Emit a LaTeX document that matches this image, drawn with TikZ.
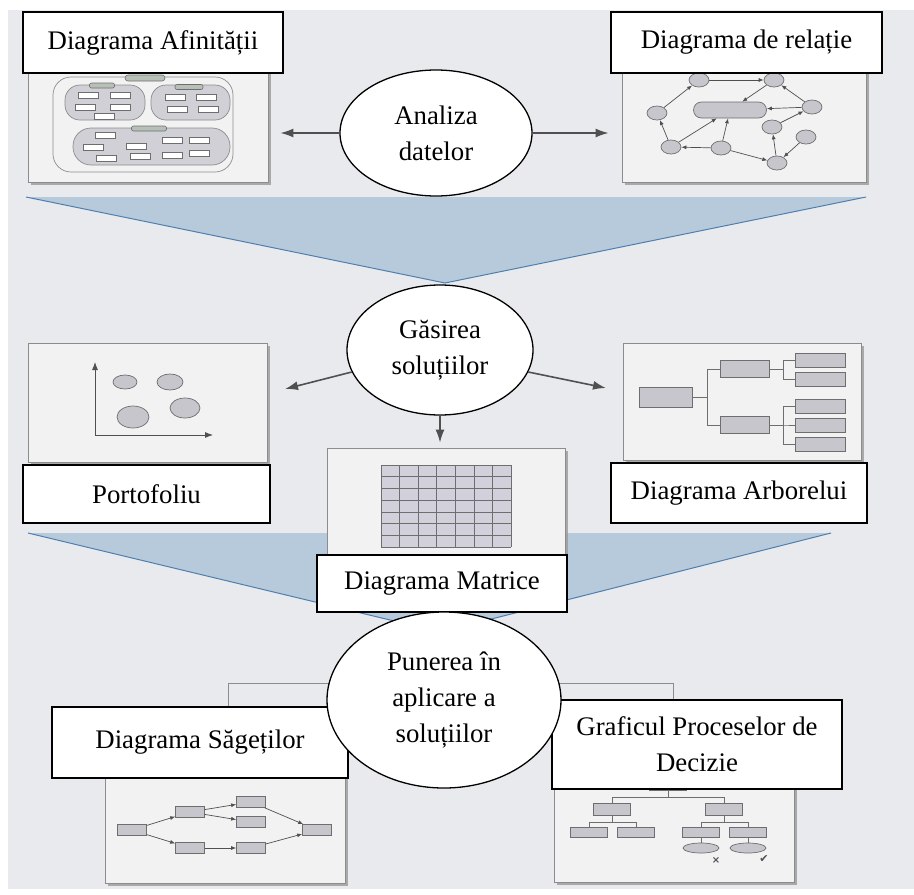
\documentclass[tikz,border=0pt]{standalone}
\usepackage{fontspec}
\setmainfont{Liberation Serif}
\newfontfamily\symfont{DejaVu Sans}
\usetikzlibrary{shapes.geometric,arrows.meta,shadows}

\definecolor{pagebg}{HTML}{E9EAED}
\definecolor{funfill}{HTML}{B7CADB}
\definecolor{funline}{HTML}{4F7FAE}
\definecolor{framefill}{HTML}{F2F2F3}
\definecolor{framedraw}{HTML}{8C8C8C}
\definecolor{boxfill}{HTML}{C6C6CC}
\definecolor{groupfill}{HTML}{D0D0D6}
\definecolor{boxdraw}{HTML}{6E6E6E}
\definecolor{tabfill}{HTML}{B7C0B7}
\definecolor{cellfill}{HTML}{D2D0DA}
\definecolor{arrowgray}{HTML}{505050}

\newcommand\labfont{\fontsize{26.8}{36}\selectfont}

\tikzset{
  sz/.style 2 args={minimum width=#1pt, minimum height=#2pt},
  namebox/.style={draw, line width=1.3pt, fill=white, inner sep=0pt, font=\labfont, align=center},
  bubble/.style={ellipse, draw, line width=1.3pt, fill=white, inner sep=0pt, font=\labfont, align=center},
  pictureframe/.style={draw=framedraw, fill=framefill, line width=0.8pt, inner sep=0pt,
    drop shadow={shadow xshift=3pt, shadow yshift=-3pt, fill=black!40, opacity=0.8}},
  bigarrow/.style={draw=arrowgray, line width=1.6pt, -{Latex[length=13pt,width=9pt]}},
  smallarrow/.style={draw=arrowgray, line width=0.7pt, -{Latex[length=5pt,width=4pt]}},
  treeline/.style={draw=boxdraw, line width=0.7pt},
  minibox/.style={draw=boxdraw, fill=boxfill, line width=0.7pt, inner sep=0pt},
  reldot/.style={ellipse, minibox, sz={20}{14}},
  whiterect/.style={draw=boxdraw, fill=white, line width=0.6pt},
}

\begin{document}
\begin{tikzpicture}[x=1pt, y=-1pt]
\useasboundingbox (0,0) rectangle (914,895);
\fill[white] (0,0) rectangle (914,895);
\fill[pagebg] (8,10) rectangle (914,889);

% funnels
\fill[funfill] (26,197) -- (866,197) -- (445,283) -- cycle;
\draw[funline, line width=1pt] (26,197) -- (445,283) -- (866,197);
\fill[funfill] (28,533) -- (831,533) -- (440,632) -- cycle;
\draw[funline, line width=1pt] (28,533) -- (440,632) -- (831,533);

\draw[framedraw, line width=0.8pt] (228,683) rectangle (673,720);

% picture frames
\node[pictureframe, sz={240}{127}] (fAfin) at (148,118.5) {};
\node[pictureframe, sz={244}{127}] (fRel) at (744,118.5) {};
\node[pictureframe, sz={239}{119}] (fPort) at (147.5,402.5) {};
\node[pictureframe, sz={238}{117}] (fArb) at (742,401.5) {};
\node[pictureframe, sz={238}{127}] (fMatr) at (446,511.5) {};
\node[pictureframe, sz={240}{143}] (fSag) at (225,811.5) {};
\node[pictureframe, sz={240}{122}] (fDec) at (674,821) {};

% affinity
\draw[framedraw, line width=0.7pt, fill=framefill, rounded corners=18pt] (53,77) rectangle (233,172);
\draw[boxdraw, line width=0.6pt, fill=tabfill, rounded corners=3pt] (125,75) rectangle (165,81);
\draw[framedraw, line width=0.7pt, fill=groupfill, rounded corners=15pt] (65,85) rectangle (145,120);
\draw[framedraw, line width=0.7pt, fill=groupfill, rounded corners=15pt] (151,85) rectangle (230,120);
\draw[framedraw, line width=0.7pt, fill=groupfill, rounded corners=18pt] (73,128) rectangle (230,165);
\foreach \x/\y/\w in {102/85.5/25, 189/87/28, 149/128.5/35}
  \draw[boxdraw, line width=0.6pt, fill=tabfill, rounded corners=2pt] (\x-\w/2,\y-2.5) rectangle (\x+\w/2,\y+2.5);
\foreach \x/\y in {88/95.5, 120/95.5, 85/107, 120/107, 104/116.5, 175/97.5, 206/97.5, 177/109, 208/109,
    105/135.5, 172/140, 199/140, 93/147, 136/146, 106/158, 140/156.5, 172/155, 199/153.5}
  \draw[whiterect] (\x-10,\y-3) rectangle (\x+10,\y+3);

% relations
\node[reldot] (r1) at (699,80) {};
\node[reldot] (r2) at (774,80) {};
\node[reldot] (r3) at (657,113) {};
\node[minibox, sz={73}{16}, rounded corners=8pt] (rc) at (730,110) {};
\node[reldot] (r4) at (812,107) {};
\node[reldot] (r5) at (772,127) {};
\node[reldot] (r6) at (806,137) {};
\node[reldot] (r7) at (671,147) {};
\node[reldot] (r8) at (721,148) {};
\node[reldot] (r9) at (777,163) {};
\foreach \a/\b in {r1/r2, r3/r1, r2/rc, r4/rc, r4/r2, r5/r4, r7/r3, r7/rc, r8/rc, r8/r7, r8/r9, r9/r5, r6/r9}
  \draw[smallarrow] (\a) -- (\b);

% portfolio
\draw[draw=arrowgray, line width=0.8pt, {Latex[length=8pt,width=6pt]}-{Latex[length=8pt,width=6pt]}]
  (95,362) -- (95,435) -- (213,435);
\foreach \x/\y/\rx/\ry in {125/382/12/7, 170/382/13/8, 133/417/16/11, 185/408/15/10}
  \draw[boxdraw, line width=0.7pt, fill=boxfill] (\x,\y) ellipse ({\rx} and {\ry});

% tree
\node[minibox, sz={53}{20}] (tb0) at (666,397) {};
\node[minibox, sz={49}{17}] (tbA) at (745,369) {};
\node[minibox, sz={49}{17}] (tbB) at (745,425) {};
\foreach \n/\y in {1/360, 2/379, 3/406, 4/425, 5/444}
  \node[minibox, sz={50}{14}] (tl\n) at (820,\y) {};
\draw[treeline] (tb0.east) -- ++(14,0) |- (tbA.west);
\draw[treeline] (tb0.east) -- ++(14,0) |- (tbB.west);
\foreach \n in {1,2}
  \draw[treeline] (tbA.east) -- ++(13,0) |- (tl\n.west);
\foreach \n in {3,4,5}
  \draw[treeline] (tbB.east) -- ++(13,0) |- (tl\n.west);

% matrix
\fill[cellfill] (381,465) rectangle (511,547);
\foreach \i in {0,...,7} {
  \draw[boxdraw, line width=0.7pt] (381+\i*18.571,465) -- (381+\i*18.571,547);
  \draw[boxdraw, line width=0.7pt] (381,465+\i*11.714) -- (511,465+\i*11.714);
}

% arrow diagram
\foreach \n/\x/\y in {0/132/830, 1/190/812, 2/190/848, 3/251/802, 4/251/822, 5/251/848, 6/317/830}
  \node[minibox, sz={29}{11}] (a\n) at (\x,\y) {};
\foreach \a/\b in {a0/a1, a0/a2, a1/a3, a1/a4, a2/a5, a3/a6, a5/a6}
  \draw[smallarrow] (\a) -- (\b);

% decision chart
\node[minibox, sz={37}{13}] (d0) at (668,784) {};
\node[minibox, sz={37}{12}] (d1) at (612,809) {};
\node[minibox, sz={37}{12}] (d2) at (724,809) {};
\foreach \n/\x in {11/589, 12/636, 21/701, 22/748}
  \node[minibox, sz={37}{10}] (d\n) at (\x,832) {};
\node[reldot, sz={36}{10}] (o21) at (701,848) {};
\node[reldot, sz={36}{10}] (o22) at (748,848) {};
\draw[treeline] (d0.south) -- ++(0,6) -| (d1.north);
\draw[treeline] (d0.south) -- ++(0,6) -| (d2.north);
\draw[treeline] (d1.south) -- ++(0,7) -| (d11.north);
\draw[treeline] (d1.south) -- ++(0,7) -| (d12.north);
\draw[treeline] (d2.south) -- ++(0,7) -| (d21.north);
\draw[treeline] (d2.south) -- ++(0,7) -| (d22.north);
\draw[treeline] (d21.south) -- (o21.north);
\draw[treeline] (d22.south) -- (o22.north);
\node[font=\symfont\bfseries\fontsize{10}{10}\selectfont, text=arrowgray] (no) at (716,860) {×};
\node[font=\symfont\fontsize{11}{11}\selectfont, text=arrowgray] (yes) at (764,859) {✔};

% titles
\node[namebox, sz={260}{61}] (tAfin) at (153,42.5) {Diagrama Afinității};
\node[namebox, sz={271}{61}] (tRel) at (746.5,42.5) {Diagrama de relație};
\node[namebox, sz={247}{58}] (tPort) at (146.5,494) {Portofoliu};
\node[namebox, sz={256}{60}] (tArb) at (739,493) {Diagrama Arborelui};
\node[namebox, sz={250}{57}] (tMatr) at (442,583.5) {Diagrama Matrice};
\node[namebox, sz={296}{71}] (tSag) at (200,742.5) {Diagrama Săgeților};
\node[namebox, sz={290}{89}] (tDec) at (697,744.5) {Graficul Proceselor de\\Decizie};

% stages
\node[bubble, sz={192}{126}] (analiza) at (436,133) {Analiza\\datelor};
\node[bubble, sz={186}{130}] (gasire) at (440,350) {Găsirea\\soluțiilor};
\node[bubble, sz={234}{176}] (punere) at (444,700) {Punerea în\\aplicare a\\soluțiilor};

\coordinate (pTip) at (285,389);
\coordinate (aTip) at (606,388);
\draw[bigarrow, shorten >=12pt] (analiza.west) -- (analiza.west -| fAfin.east);
\draw[bigarrow, shorten >=13pt] (analiza.east) -- (analiza.east -| fRel.west);
\draw[bigarrow] (gasire.194) -- (pTip);
\draw[bigarrow] (gasire.346) -- (aTip);
\draw[bigarrow, shorten >=5pt] (gasire.south) -- (gasire.south |- fMatr.north);
\end{tikzpicture}
\end{document}
